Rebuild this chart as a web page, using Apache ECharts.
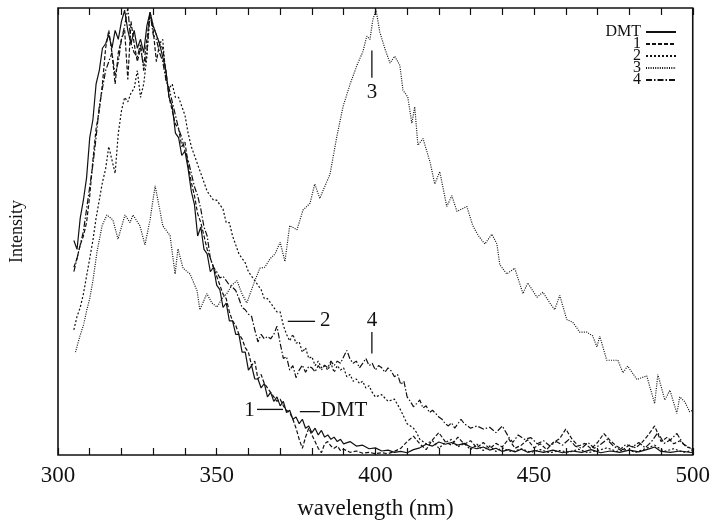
<!DOCTYPE html>
<html><head><meta charset="utf-8">
<script src="https://cdn.jsdelivr.net/npm/echarts@6/dist/echarts.min.js"></script>
<style>html,body{margin:0;padding:0;background:#fff}#c{width:713px;height:525px}</style>
</head><body><div id="c"></div>
<script>
// x-axis tick labels (nm)
const xTickLabels = [300, 350, 400, 450, 500];
const seriesNames = ['DMT', '1', '2', '3', '4'];

// [wavelength nm, intensity %]
const dmt = [[305,48],[306,46],[307,53],[308,57],[309,62],[310,71],[311,75],[312,83],[313,86],[314,91],[315,92],[316,94],[317,91],[318,95],[319,93],[320,97],[321,99.5],[322,95],[323,92],[324,95],[325,91],[326,93],[327,90],[328,96],[329,99],[330,96],[331,94],[332,92],[333,89],[334,86],[335,80],[336,78],[337,72],[338,71],[339,67],[340,68],[341,64],[342,59],[343,56],[344,49],[345,51],[346,46],[347,45],[348,41],[349,42],[350,38],[351,37],[352,33],[353,34],[354,30],[355,30],[356,27],[357,27],[358,23],[359,23],[360,19],[361,20],[362,17],[363,17],[364,15],[365,16],[366,13],[367,14],[368,12],[369,13],[370,11],[371,12],[372,9.5],[373,10],[374,8],[375,8.5],[376,7],[377,8],[378,6],[379,6.5],[380,5],[381,6],[382,4.5],[383,5.5],[384,4],[385,4.5],[386,3.5],[387,4],[388,3],[389,3.5],[390,2.5],[392,3],[394,2],[396,2.2],[398,1.4],[400,1.6],[402,0.9],[404,1.1],[406,0.6],[408,0.8],[410,0.5],[412,1.2],[414,1.6],[416,2.4],[418,2.0],[420,2.9],[422,2.4],[424,2.8],[426,2.2],[428,2.6],[430,1.8],[432,1.4],[434,1.8],[436,1.1],[438,1.5],[440,0.8],[442,1.2],[444,0.7],[446,1.3],[448,0.6],[450,1.0],[453,0.6],[456,1.1],[459,0.5],[462,0.9],[465,0.6],[468,1.2],[471,0.5],[474,0.9],[477,0.6],[480,1.1],[483,0.7],[486,1.3],[488,1.8],[490,0.8],[493,0.6],[496,0.9],[500,0.5]];

const s1 = [[305,42],[306,44],[307,47],[308,49],[309,52],[310,58],[311,66],[312,73],[313,77],[314,83],[315,91],[316,95],[317,90],[318,83],[319,90],[320,93],[321,95],[322,84],[323,97],[324,92],[325,88],[326,91],[327,87],[328,93],[329,99],[330,95],[331,88],[332,92],[333,91],[334,86],[335,80],[336,77],[337,74],[338,73],[339,69],[340,70],[341,65],[342,61],[343,58],[344,54],[345,52],[346,49],[347,46],[348,44],[349,42],[350,40],[351,38],[352,36],[353,35],[354,32],[355,30],[356,29],[357,27],[358,26],[359,24],[360,23],[361,20],[362,21],[363,17],[364,18],[365,16],[366,15],[367,14],[368,13],[369,12],[370,12.5],[371,11],[372,10],[373,9.5],[374,8],[375,6],[376,3.5],[377,1.5],[378,4],[379,6],[380,4.5],[381,3],[382,1.5],[383,0.5],[384,2.5],[385,3],[386,2],[387,1.5],[388,2],[389,1],[390,1.3],[392,0.6],[394,0.9],[396,0.4],[398,0.6],[400,0.3],[402,0.5],[404,0.3],[406,0.8],[408,1.5],[410,3],[412,4.2],[414,2.5],[416,1.2],[418,3.4],[420,5],[422,3],[424,2.2],[426,4],[428,2.4],[430,3.2],[432,1.6],[434,2.8],[436,1.4],[438,2.6],[440,1.8],[442,3.6],[444,1.5],[446,2.2],[448,3.4],[450,1.6],[452,2.5],[454,1.2],[456,2.8],[458,3.6],[460,5.8],[462,3.5],[464,2.0],[466,2.6],[468,1.4],[470,2.8],[472,4.8],[474,3.2],[476,2.0],[478,1.2],[480,2.2],[482,1.6],[484,2.8],[486,4.5],[488,6.5],[490,3.0],[492,4.0],[494,2.5],[496,3.2],[498,1.8],[500,1.4]];

const s2 = [[305,28],[306,31],[307,33],[308,36],[309,40],[310,44],[311,48],[312,53],[313,57],[314,61],[315,64],[316,69],[317,66],[318,63],[319,72],[320,77],[321,80],[322,79],[323,81],[324,82],[325,86],[326,80],[327,83],[328,89],[329,99],[330,96],[331,94],[332,92],[333,93],[334,84],[335,82],[336,83],[337,80],[338,80],[339,78],[340,76],[341,72],[342,69],[343,67],[344,65],[345,63],[346,61],[347,59],[348,58],[349,57],[350,57],[351,56],[352,55],[353,52],[354,52],[355,49],[356,47],[357,45],[358,44],[359,43],[360,41],[361,40],[362,39],[363,38],[364,37],[365,35],[366,35],[367,34],[368,33],[369,32],[370,32],[371,29],[372,27],[373,25.5],[374,27],[375,25],[376,25.3],[377,23],[378,24],[379,21.6],[380,22],[381,20],[382,21],[383,19.5],[384,20],[385,19],[386,20.5],[387,18.5],[388,20],[389,19],[390,19.5],[391,17.5],[392,18],[393,16.5],[394,17],[395,16],[396,16.5],[397,15],[398,15.5],[399,14],[400,13],[402,13.5],[404,12],[406,12.5],[408,10],[410,7],[412,6],[413,5],[414,3.5],[416,2.5],[418,3.2],[420,1.5],[422,2.8],[424,3.5],[426,1.8],[428,2.6],[430,1.2],[432,2.4],[434,1.0],[436,2.0],[438,0.8],[440,1.6],[443,0.7],[446,1.4],[449,0.6],[452,1.2],[455,0.5],[458,1.0],[461,0.6],[464,1.3],[467,0.5],[470,1.0],[473,1.6],[476,0.8],[479,1.2],[482,0.6],[485,1.4],[488,2.2],[491,0.8],[494,1.4],[497,0.6],[500,1.0]];

const s3 = [[305.5,23],[306.9,26.6],[308,29],[309.1,32.5],[310,35],[311,39],[312.3,45.5],[313.9,51.3],[315.4,53.7],[317.3,52.6],[318.9,48.3],[321.1,53.7],[322.7,52],[323.6,53.7],[325.8,51.3],[327.4,47],[329,52.6],[330.6,60.2],[332.1,54.8],[333,51.3],[335.3,49.1],[336.9,40.5],[337.8,46.1],[339.4,41.8],[341.6,40.5],[343.8,36.8],[344.7,32.5],[346.9,36.1],[348.5,34],[350.1,33.1],[351.7,35],[353.2,36.1],[354.8,38],[356.4,39],[358,36],[359.5,34],[361.5,38],[363.6,41.8],[365.2,42],[366.8,43.9],[368.4,45],[370,47.6],[371.5,43.3],[373,51.3],[375.3,50.4],[377.2,54.8],[379.4,56.3],[380.9,60.6],[382.5,57.4],[384,60],[385.7,62.8],[387.9,71.4],[389.8,77.9],[392,82.9],[394.2,87.2],[396.1,90.3],[397.3,93.7],[398.3,93],[399.2,97.4],[400.2,99.6],[401.4,94.6],[403,90.9],[404.6,87.7],[406.1,89.2],[407.7,87.2],[408.7,81.6],[410.2,80.1],[411.5,74.2],[412.4,77.9],[413.4,69.3],[415,70.8],[417.2,65.6],[418.7,60.6],[420.3,63.4],[422.5,55.6],[424.1,58],[425.7,54.5],[428.8,55.6],[430.7,51.3],[432.5,49],[434.5,47.2],[436.7,49.4],[438.3,47.2],[439.2,42.6],[441.4,40.5],[443.9,41.8],[446.5,36.1],[448,38.5],[450.9,35.3],[452.8,36.4],[455,34],[456.5,32.5],[458.1,35.7],[460.3,30.3],[462.2,29.7],[464.4,27.5],[466.6,27.5],[468.5,26.6],[469.8,24.2],[470.7,26.6],[472.9,21.2],[476.4,21.2],[478,18.4],[479.5,19.9],[482.4,16.9],[485.5,17.7],[488,11.5],[489,18],[491.2,12.3],[492.8,14.5],[495,9.3],[495.9,13],[497.5,11.9],[499,9.7],[500,10]];

const s4 = [[305,41],[306,44],[307,47],[308,50],[309,55],[310,60],[311,65],[312,71],[313,78],[314,82],[315,86],[316,88],[317,90],[318,85],[319,88],[320,93],[321,96],[322,100],[323,92],[324,90],[325,89],[326,92],[327,86],[328,90],[329,99],[330,94],[331,93],[332,90],[333,88],[334,84],[335,82],[336,79],[337,76],[338,73],[339,71],[340,68],[341,66],[342,63],[343,60],[344,58],[345,55],[346,51],[347,49],[348,44],[349,42],[350,41],[351,39.6],[352,40],[353,39],[354,38],[355,37.5],[356,36.8],[357,35],[358,33],[359,32.5],[360,31.5],[361,31],[362,28],[363,25.3],[364,27],[365,26],[366,26.5],[367,26],[368,27],[369,28.8],[370,25],[371,21.6],[372,22],[373,19],[374,20],[375,17.3],[376,19],[377,20.1],[378,18.5],[379,19.8],[380,19.5],[381,18.6],[382,20],[383,19],[384,20.1],[385,19.5],[386,21],[387,20],[388,21],[389,20.5],[390,22],[391,23.4],[392,21.5],[393,20.5],[394,21],[395,19.5],[396,20.5],[397,21.6],[398,20],[399,20.5],[400,19],[401,20],[402,19.5],[403,18.5],[404,19.5],[405,18.8],[406,17.5],[407,18],[408,15.8],[409,16.5],[410,13],[411,12],[412,10.8],[413,11.5],[414,12.3],[415,10.5],[416,11],[417,9.5],[418,10],[419,9.3],[420,8.5],[421,8],[422,7],[423,6.5],[424,7.2],[425,6],[426,7],[427,8],[428,7],[430,6],[432,6.5],[434,5.8],[436,6.2],[438,5],[440,6.5],[442,4],[443.3,2.8],[445,4.5],[447,3.5],[449,3.9],[451,2.5],[453,3.2],[455,2],[457,3],[459,2.2],[461,3.5],[463,2],[465,1.5],[467,2.8],[469,1.5],[471,2.4],[473,3.5],[475,2],[477,1.2],[479,2.4],[481,1.8],[483,2.8],[485,1.6],[487,3],[489,5],[491,2.6],[493,3.4],[495,4.8],[497,2.5],[499,1.6],[500,1.2]];

const seriesData = [dmt, s1, s2, s3, s4];
const dashTypes = ['solid', [4, 2], [2, 2], [1, 1.3], [6, 2, 1.5, 2]];

const serif = "'Liberation Serif', 'DejaVu Serif', serif";
const ink = '#111';

const chart = echarts.init(document.getElementById('c'), null, {renderer: 'canvas'});

const tickAxis = (pos, labels) => ({
  type: 'value', position: pos, min: 300, max: 500, interval: 10,
  axisLine: {show: false},
  axisTick: {show: true, inside: true, length: 7, lineStyle: {color: ink, width: 1.2}},
  splitLine: {show: false},
  axisLabel: labels ? {
    show: true, margin: 9, color: ink, fontFamily: serif, fontSize: 23,
    formatter: v => xTickLabels.includes(v) ? String(v) : ''
  } : {show: false},
  name: labels ? 'wavelength (nm)' : '',
  nameLocation: 'middle', nameGap: 42,
  nameTextStyle: {color: ink, fontFamily: serif, fontSize: 23}
});

chart.setOption({
  animation: false,
  backgroundColor: '#fff',
  grid: {left: 58, right: 20, top: 8, bottom: 55, show: true, borderColor: ink, borderWidth: 1.6, backgroundColor: 'transparent'},
  legend: {
    orient: 'vertical', right: 36, top: 24, align: 'right', padding: 0,
    itemWidth: 30, itemHeight: 8, itemGap: -4,
    data: seriesNames,
    itemStyle: {opacity: 0},
    textStyle: {fontFamily: serif, fontSize: 16, color: ink}
  },
  xAxis: [tickAxis('bottom', true), tickAxis('top', false)],
  yAxis: {
    type: 'value', min: 0, max: 100,
    axisLine: {show: false}, axisTick: {show: false}, axisLabel: {show: false}, splitLine: {show: false},
    name: 'Intensity', nameLocation: 'middle', nameGap: 32, nameRotate: 90,
    nameTextStyle: {color: ink, fontFamily: serif, fontSize: 18}
  },
  series: seriesNames.map((n, i) => ({
    name: n, type: 'line', xAxisIndex: 0, data: seriesData[i],
    symbol: 'none', showSymbol: false,
    lineStyle: {color: ink, width: 1.2, type: dashTypes[i]},
    itemStyle: {color: ink}
  }))
});

// In-plot annotations anchored in data coordinates
const annoLines = [
  [[362.7, 10.2], [370.9, 10.2]],
  [[376.2, 9.7], [382.5, 9.7]],
  [[372.4, 29.9], [381.0, 29.9]],
  [[398.9, 27.5], [398.9, 22.7]],
  [[398.9, 90.5], [398.9, 84.4]]
];
const annoTexts = [
  {t: '1', at: [360.3, 9.9], align: 'center'},
  {t: 'DMT', at: [382.8, 9.9], align: 'left'},
  {t: '2', at: [384.2, 30.1], align: 'center'},
  {t: '4', at: [398.9, 30.1], align: 'center'},
  {t: '3', at: [398.9, 81.0], align: 'center'}
];
const px = p => chart.convertToPixel({xAxisIndex: 0, yAxisIndex: 0}, p);
const g = [];
annoLines.forEach(l => {
  const a = px(l[0]), b = px(l[1]);
  g.push({type: 'line', shape: {x1: a[0], y1: a[1], x2: b[0], y2: b[1]}, style: {stroke: ink, lineWidth: 1.3}, z: 10});
});
annoTexts.forEach(o => {
  const p = px(o.at);
  g.push({type: 'text', x: p[0], y: p[1], style: {text: o.t, fill: ink, font: "21px 'Liberation Serif', serif", textAlign: o.align, textVerticalAlign: 'middle'}, z: 10});
});
chart.setOption({graphic: g});
</script>
</body></html>
